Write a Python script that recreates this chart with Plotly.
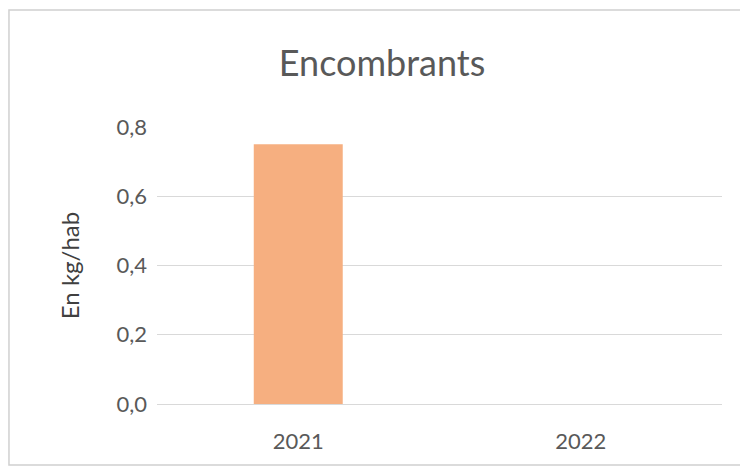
import plotly.graph_objects as go

annees = ['2021', '2022']
valeurs = [0.75, 0]
ticks_y = [0.0, 0.2, 0.4, 0.6, 0.8]
ticks_y_txt = ['0,0', '0,2', '0,4', '0,6', '0,8']

fig = go.Figure()
fig.add_trace(go.Bar(x=annees, y=valeurs, marker_color='#F6AF80', marker_line_width=0))

# la page html a une marge de 8px, on compense dans les marges
fig.update_layout(
    width=748, height=470,
    margin=dict(l=149, r=34, t=119, b=74),
    paper_bgcolor='white', plot_bgcolor='white',
    font=dict(family='Lato, Calibri, sans-serif', color='#595959', size=22),
    title=dict(text='Encombrants', x=0.5, xanchor='center', y=0.883, yanchor='middle',
               font=dict(size=36, color='#595959')),
    bargap=0.685,
    showlegend=False,
)
fig.update_yaxes(range=[0, 0.8], tickvals=ticks_y, ticktext=ticks_y_txt,
                 showgrid=True, gridcolor='#D9D9D9', gridwidth=1, zeroline=False,
                 ticks='', ticklabelstandoff=9,
                 title=dict(text='En kg/hab', font=dict(size=24, color='#404040'), standoff=30))
fig.update_xaxes(showline=True, linecolor='#D9D9D9', showgrid=False, ticks='',
                 ticklabelstandoff=18)

# cadre du graphique
fig.add_shape(type='rect', xref='paper', yref='paper', x0=-0.262, x1=1.0407, y0=-0.220, y1=1.4224,
              line=dict(color='#D0D0D0', width=1.5), layer='below')

fig.write_html("out.html")
